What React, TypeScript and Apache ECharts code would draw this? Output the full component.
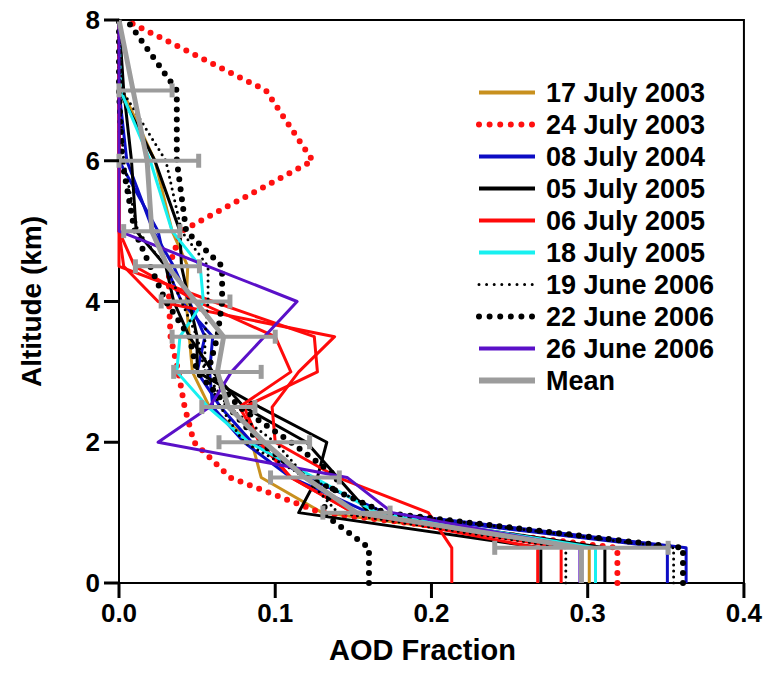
import { useEffect, useRef } from 'react';
import * as echarts from 'echarts';

// Altitude levels (km) shared by every profile
const ALT = [0, 0.5, 1, 1.5, 2, 2.5, 3, 3.5, 4, 4.5, 5, 6, 7, 8];

// AOD fraction per altitude level (same order as ALT)
const JUL17_2003 = [0.301, 0.301, 0.13, 0.091, 0.085, 0.058, 0.047, 0.045, 0.043, 0.044, 0.034, 0.023, 0.002, 0];
const JUL24_2003 = [0.319, 0.319, 0.129, 0.071, 0.048, 0.042, 0.038, 0.033, 0.032, 0.032, 0.04, 0.124, 0.094, 0.004];
const JUL08_2004_A = [0.351, 0.351, 0.16, 0.11, 0.08, 0.06, 0.058, 0.06, 0.04, 0.03, 0.025, 0, 0, 0];
const JUL08_2004_B = [0.363, 0.363, 0.17, 0.12, 0.085, 0.065, 0.05, 0.055, 0.045, 0.035, 0.022, 0.005, 0, 0];
const JUL05_2005_A = [0.27, 0.27, 0.115, 0.127, 0.133, 0.09, 0.05, 0.05, 0.045, 0.04, 0.039, 0.023, 0, 0];
const JUL05_2005_B = [0.311, 0.311, 0.16, 0.14, 0.12, 0.08, 0.06, 0.045, 0.035, 0.03, 0.011, 0.008, 0.003, 0];
const JUL06_2005_A = [0.213, 0.213, 0.198, 0.14, 0.1, 0.098, 0.115, 0.138, 0.025, 0.003, 0, 0, 0, 0];
const JUL06_2005_B = [0.268, 0.268, 0.15, 0.11, 0.09, 0.08, 0.127, 0.125, 0.06, 0, 0, 0, 0, 0];
const JUL06_2005_C = [0.283, 0.283, 0.15, 0.11, 0.09, 0.077, 0.11, 0.1, 0.05, 0.01, 0, 0, 0, 0];
const JUL18_2005 = [0.305, 0.305, 0.165, 0.125, 0.083, 0.057, 0.037, 0.039, 0.054, 0.052, 0.034, 0.02, 0.001, 0];
const JUN19_2006_A = [0.355, 0.355, 0.17, 0.12, 0.08, 0.065, 0.055, 0.05, 0.04, 0.03, 0.012, 0.003, 0, 0];
const JUN19_2006_B = [0.286, 0.286, 0.14, 0.12, 0.1, 0.07, 0.055, 0.055, 0.057, 0.057, 0.04, 0.03, 0.002, 0];
const JUN22_2006_A = [0.16, 0.16, 0.13, 0.14, 0.11, 0.077, 0.057, 0.063, 0.066, 0.066, 0.043, 0.037, 0.037, 0.005];
const JUN22_2006_B = [0.361, 0.361, 0.17, 0.12, 0.09, 0.07, 0.05, 0.045, 0.03, 0.02, 0.01, 0.002, 0, 0];
const JUN26_2006 = [0.295, 0.295, 0.175, 0.146, 0.025, 0.058, 0.072, 0.093, 0.114, 0.057, 0, 0, 0, 0];

const MEAN = [0.296, 0.296, 0.152, 0.119, 0.093, 0.07, 0.063, 0.067, 0.049, 0.031, 0.021, 0.018, 0.009, 0];
// standard deviation at each level (null = no error bar)
const MEAN_SD = [null, 0.0555, 0.0215, 0.022, 0.029, 0.017, 0.028, 0.033, 0.022, 0.0205, 0.018, 0.033, 0.025, null];

// Tick positions
const X_TICKS = [0, 0.1, 0.2, 0.3, 0.4];
const Y_TICKS = [0, 2, 4, 6, 8];

const LEGEND_NAMES = [
  '17 July 2003', '24 July 2003', '08 July 2004', '05 July 2005', '06 July 2005',
  '18 July 2005', '19 June 2006', '22 June 2006', '26 June 2006', 'Mean',
];

const PROFILES: { name: string; values: number[] }[] = [
  { name: '17 July 2003', values: JUL17_2003 },
  { name: '24 July 2003', values: JUL24_2003 },
  { name: '08 July 2004', values: JUL08_2004_A },
  { name: '08 July 2004', values: JUL08_2004_B },
  { name: '05 July 2005', values: JUL05_2005_A },
  { name: '05 July 2005', values: JUL05_2005_B },
  { name: '06 July 2005', values: JUL06_2005_A },
  { name: '06 July 2005', values: JUL06_2005_B },
  { name: '06 July 2005', values: JUL06_2005_C },
  { name: '18 July 2005', values: JUL18_2005 },
  { name: '19 June 2006', values: JUN19_2006_A },
  { name: '19 June 2006', values: JUN19_2006_B },
  { name: '22 June 2006', values: JUN22_2006_A },
  { name: '22 June 2006', values: JUN22_2006_B },
  { name: '26 June 2006', values: JUN26_2006 },
];

const FONT = '"Liberation Sans", Arial, Helvetica, sans-serif';
const GRAY = '#9C9C9C';
const TICK_LEN = 15;

const STYLES: Record<string, any> = {
  '17 July 2003': { color: '#C8901E', width: 3, type: 'solid', cap: 'butt', legendWidth: 4 },
  '24 July 2003': { color: '#FF1010', width: 6, type: [0, 10], cap: 'round', legendWidth: 6, legendType: [0, 10.6] },
  '08 July 2004': { color: '#0C0CC4', width: 3, type: 'solid', cap: 'butt', legendWidth: 4 },
  '05 July 2005': { color: '#000000', width: 3, type: 'solid', cap: 'butt', legendWidth: 4 },
  '06 July 2005': { color: '#FF0A0A', width: 3, type: 'solid', cap: 'butt', legendWidth: 4 },
  '18 July 2005': { color: '#18F0F0', width: 3, type: 'solid', cap: 'butt', legendWidth: 4 },
  '19 June 2006': { color: '#000000', width: 3, type: [0, 6], cap: 'round', legendWidth: 3, legendType: [0, 7.6] },
  '22 June 2006': { color: '#000000', width: 6, type: [0, 10], cap: 'round', legendWidth: 6, legendType: [0, 10.6] },
  '26 June 2006': { color: '#5A10C8', width: 3, type: 'solid', cap: 'butt', legendWidth: 4 },
  'Mean': { color: GRAY, width: 5, type: 'solid', cap: 'butt', legendWidth: 6 },
};

export default function App() {
  const ref = useRef<HTMLDivElement>(null);

  useEffect(() => {
    document.body.style.margin = '0';
    if (!ref.current) return;
    const chart = echarts.init(ref.current, undefined, { renderer: 'svg' });

    const profileSeries = PROFILES.map((p) => {
      const s = STYLES[p.name];
      return {
        type: 'line',
        name: p.name,
        data: ALT.map((a, i) => [p.values[i], a]),
        symbol: 'none',
        showSymbol: false,
        color: s.color,
        lineStyle: { color: s.color, width: s.width, type: s.type, cap: s.cap, join: 'round' },
        emphasis: { disabled: true },
        silent: true,
      };
    });

    const meanSeries = {
      type: 'line',
      name: 'Mean',
      data: ALT.map((a, i) => [MEAN[i], a]),
      symbol: 'none',
      showSymbol: false,
      color: GRAY,
      lineStyle: { color: GRAY, width: 5, join: 'round' },
      emphasis: { disabled: true },
      silent: true,
      z: 5,
    };

    const errData = ALT.map((a, i) =>
      MEAN_SD[i] == null ? null : [Math.max(0, MEAN[i] - (MEAN_SD[i] as number)), MEAN[i] + (MEAN_SD[i] as number), a]
    ).filter((d) => d != null);

    const errSeries = {
      type: 'custom',
      name: 'errbars',
      data: errData,
      encode: { x: [0, 1], y: 2 },
      clip: false,
      silent: true,
      z: 6,
      renderItem: (params: any, api: any) => {
        const lo = api.value(0);
        const hi = api.value(1);
        const alt = api.value(2);
        const p1 = api.coord([lo, alt]);
        const p2 = api.coord([hi, alt]);
        const h = 7;
        const st = { stroke: GRAY, lineWidth: 4 };
        const cst = { stroke: GRAY, lineWidth: 5 };
        return {
          type: 'group',
          children: [
            { type: 'line', shape: { x1: p1[0], y1: p1[1], x2: p2[0], y2: p2[1] }, style: st },
            { type: 'line', shape: { x1: p1[0], y1: p1[1] - h, x2: p1[0], y2: p1[1] + h }, style: cst },
            { type: 'line', shape: { x1: p2[0], y1: p2[1] - h, x2: p2[0], y2: p2[1] + h }, style: cst },
          ],
        };
      },
    };

    // outward axis ticks, placed through the axes' scales
    const xTickSeries = {
      type: 'custom',
      name: 'xticks',
      data: X_TICKS.map((v) => [v, 0]),
      clip: false,
      silent: true,
      z: 8,
      renderItem: (params: any, api: any) => {
        const pt = api.coord([api.value(0), api.value(1)]);
        return { type: 'line', shape: { x1: pt[0], y1: pt[1], x2: pt[0], y2: pt[1] + TICK_LEN }, style: { stroke: '#000', lineWidth: 3 } };
      },
    };
    const yTickSeries = {
      type: 'custom',
      name: 'yticks',
      data: Y_TICKS.map((v) => [0, v]),
      clip: false,
      silent: true,
      z: 8,
      renderItem: (params: any, api: any) => {
        const pt = api.coord([api.value(0), api.value(1)]);
        return { type: 'line', shape: { x1: pt[0], y1: pt[1], x2: pt[0] - TICK_LEN, y2: pt[1] }, style: { stroke: '#000', lineWidth: 3 } };
      },
    };

    const labelStyle = { color: '#000', fontFamily: FONT, fontWeight: 'bold', fontSize: 26 };

    chart.setOption({
      animation: false,
      backgroundColor: '#fff',
      grid: { left: 119, right: 20, top: 20, bottom: 105, show: true, borderColor: '#000', borderWidth: 2, backgroundColor: 'transparent' },
      legend: {
        orient: 'vertical',
        left: 476,
        top: 79,
        padding: 0,
        itemWidth: 56,
        itemHeight: 14,
        itemGap: 5,
        selectedMode: false,
        itemStyle: { opacity: 0 },
        textStyle: { color: '#000', fontFamily: FONT, fontWeight: 'bold', fontSize: 27, lineHeight: 27, padding: [0, 0, 0, 6] },
        data: LEGEND_NAMES.map((n) => {
          const s = STYLES[n];
          return {
            name: n,
            lineStyle: { color: s.color, width: s.legendWidth, type: s.legendType || 'solid', cap: s.cap, opacity: 1 },
          };
        }),
      },
      xAxis: {
        type: 'value',
        min: 0,
        max: 0.4,
        interval: 0.1,
        name: 'AOD Fraction',
        nameLocation: 'middle',
        nameGap: 52,
        nameTextStyle: { color: '#000', fontFamily: FONT, fontWeight: 'bold', fontSize: 29, padding: [0, 18, 0, 0] },
        axisLine: { show: true, lineStyle: { color: '#000', width: 2 } },
        axisTick: { show: false },
        axisLabel: { ...labelStyle, margin: 17, formatter: (v: number) => v.toFixed(1) },
        splitLine: { show: false },
      },
      yAxis: {
        type: 'value',
        min: 0,
        max: 8,
        interval: 2,
        name: 'Altitude (km)',
        nameLocation: 'middle',
        nameGap: 74,
        nameTextStyle: { color: '#000', fontFamily: FONT, fontWeight: 'bold', fontSize: 28 },
        axisLine: { show: true, lineStyle: { color: '#000', width: 2 } },
        axisTick: { show: false },
        axisLabel: { ...labelStyle, margin: 19 },
        splitLine: { show: false },
      },
      series: [...profileSeries, meanSeries, errSeries, xTickSeries, yTickSeries],
    });

    return () => chart.dispose();
  }, []);

  return <div ref={ref} style={{ width: 765, height: 688 }} />;
}
